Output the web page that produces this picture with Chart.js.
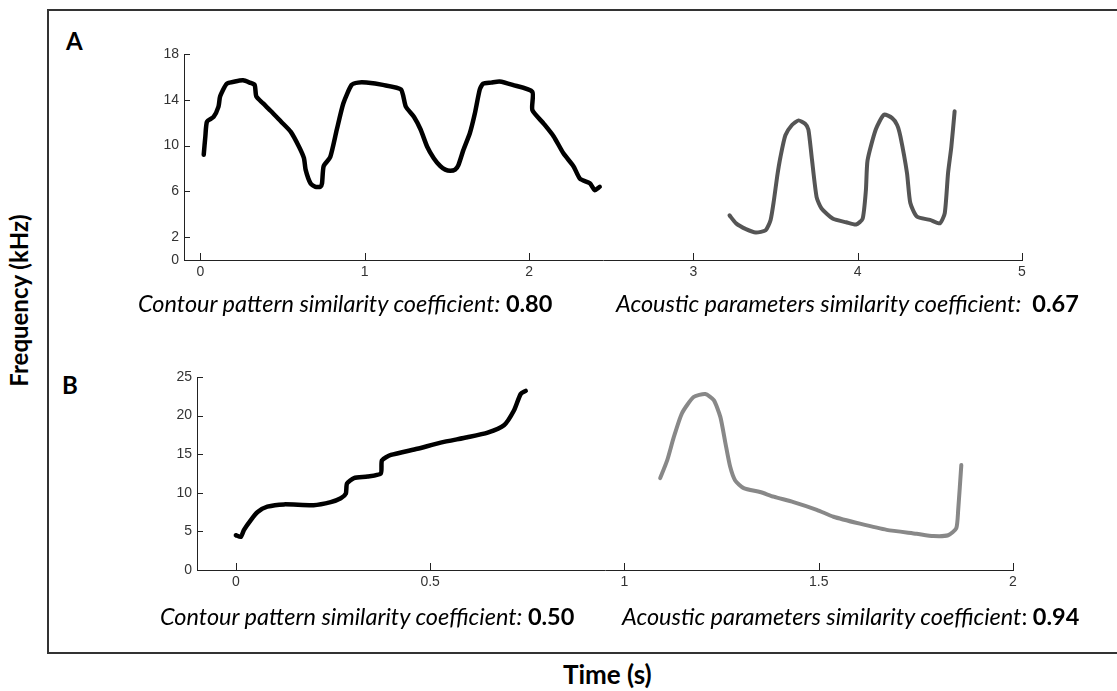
<!DOCTYPE html>
<html>
<head>
<meta charset="utf-8">
<script src="https://cdn.jsdelivr.net/npm/chart.js@4"></script>
<style>
  html,body{margin:0;padding:0;background:#fff;overflow:hidden;}
  #page{position:relative;width:1117px;height:691px;font-family:Lato,"Open Sans",sans-serif;color:#000;}
  .frame{position:absolute;left:47px;top:9px;width:1100px;height:641px;border:2px solid #333;}
  canvas{position:absolute;}
  .lbl{position:absolute;white-space:nowrap;}
  .panel{font-weight:bold;font-size:24px;}
  .coef{font-style:italic;font-size:23.5px;}
  .coef b{font-style:normal;}
  .ylab{font-weight:bold;font-size:24px;transform:rotate(-90deg);transform-origin:center;}
  .xlab{font-weight:bold;font-size:26px;}
</style>
</head>
<body>
<div id="page">
  <div class="frame"></div>
  <canvas id="chartA" width="960" height="250" style="left:100px;top:40px"></canvas>
  <canvas id="chartB" width="960" height="250" style="left:100px;top:360px"></canvas>

  <div class="lbl panel" style="left:66px;top:26px">A</div>
  <div class="lbl panel" style="left:62px;top:370px">B</div>

  <div class="lbl coef" style="left:138px;top:289px">Contour pattern similarity coefficient: <b>0.80</b></div>
  <div class="lbl coef" style="left:616px;top:289px">Acoustic parameters similarity coefficient:&nbsp; <b>0.67</b></div>
  <div class="lbl coef" style="left:160px;top:602px">Contour pattern similarity coefficient: <b>0.50</b></div>
  <div class="lbl coef" style="left:622px;top:602px">Acoustic parameters similarity coefficient<span style="font-style:normal">:</span> <b>0.94</b></div>

  <div class="lbl ylab" style="left:-68px;top:286px">Frequency (kHz)</div>
  <div class="lbl xlab" style="left:563px;top:658px">Time (s)</div>
</div>

<script>
/* ===== Data (time in s, frequency in kHz) ===== */
// Panel A, first contour (black)
const tA1 = [0.02,0.03,0.04,0.08,0.11,0.12,0.16,0.21,0.26,0.30,0.33,0.34,0.38,0.43,0.49,0.55,0.60,0.63,0.64,0.67,0.70,0.73,0.74,0.75,0.79,0.83,0.87,0.92,0.96,1.01,1.11,1.22,1.25,1.30,1.34,1.38,1.42,1.46,1.49,1.52,1.55,1.57,1.60,1.64,1.67,1.70,1.72,1.77,1.82,1.90,2.02,2.02,2.09,2.15,2.21,2.27,2.31,2.37,2.40,2.43];
const fA1 = [9.2,10.8,12.1,12.5,13.4,14.3,15.4,15.6,15.7,15.5,15.3,14.3,13.7,13.0,12.1,11.2,9.9,8.9,7.9,6.7,6.4,6.4,6.7,8.2,9.0,11.4,13.7,15.3,15.5,15.5,15.3,14.9,13.4,12.5,11.4,9.9,8.9,8.2,7.9,7.8,7.9,8.3,9.6,11.1,12.8,14.9,15.4,15.5,15.6,15.3,14.7,13.1,11.9,10.8,9.3,8.2,7.1,6.7,6.1,6.4];
// Panel A, second contour (grey)
const tA2 = [3.22,3.26,3.32,3.38,3.44,3.47,3.49,3.51,3.53,3.56,3.60,3.64,3.68,3.70,3.72,3.75,3.78,3.85,3.93,3.99,4.03,4.05,4.06,4.11,4.16,4.21,4.24,4.26,4.30,4.32,4.36,4.44,4.50,4.53,4.55,4.57,4.59];
const fA2 = [3.9,3.2,2.7,2.4,2.6,3.5,5.2,7.3,9.0,10.9,11.8,12.2,11.9,11.4,9.0,5.5,4.5,3.6,3.3,3.1,3.6,6.1,8.7,11.4,12.7,12.4,11.8,10.8,7.6,5.0,3.8,3.5,3.2,4.1,7.6,9.9,13.0];
// Panel B, first contour (black)
const tB1 = [0.0,0.013,0.021,0.039,0.056,0.081,0.124,0.20,0.244,0.27,0.283,0.286,0.304,0.339,0.373,0.376,0.399,0.467,0.527,0.596,0.648,0.69,0.716,0.733,0.746];
const fB1 = [4.5,4.3,5.2,6.5,7.5,8.2,8.5,8.4,8.8,9.3,9.9,11.2,11.9,12.1,12.5,14.2,14.9,15.7,16.5,17.2,17.8,18.75,20.7,22.8,23.2];
// Panel B, second contour (grey)
const tB2 = [1.092,1.11,1.127,1.148,1.178,1.208,1.23,1.247,1.26,1.272,1.285,1.307,1.349,1.384,1.435,1.495,1.538,1.606,1.675,1.752,1.795,1.833,1.854,1.859,1.867];
const fB2 = [11.9,14.2,17.2,20.3,22.4,22.8,22.0,19.8,16.4,13.4,11.6,10.6,10.1,9.5,8.8,7.8,6.9,6.0,5.2,4.7,4.4,4.5,5.4,7.8,13.6];

// Tick labels
const ticksAx = [0,1,2,3,4,5];
const ticksAy = [0,2,6,10,14,18];
const ticksBx = [0,0.5,1,1.5,2];
const ticksBy = [0,5,10,15,20,25];

/* ===== Helpers ===== */
const pts = (t,f)=>t.map((x,i)=>({x, y:f[i]}));

// MATLAB style tick marks pointing into the plot
const innerTicks = {
  id:'innerTicks',
  afterDraw(chart){
    const {ctx, chartArea:a, scales:{x,y}} = chart;
    ctx.save();
    ctx.strokeStyle='#222'; ctx.lineWidth=1;
    x.ticks.forEach(t=>{
      const px = Math.round(x.getPixelForValue(t.value))+.5;
      ctx.beginPath(); ctx.moveTo(px,a.bottom); ctx.lineTo(px,a.bottom-7); ctx.stroke();
    });
    y.ticks.forEach(t=>{
      const py = Math.round(y.getPixelForValue(t.value))+.5;
      ctx.beginPath(); ctx.moveTo(a.left,py); ctx.lineTo(a.left+6,py); ctx.stroke();
    });
    ctx.restore();
  }
};

function lineSet(data,color,w){
  return { data, showLine:true, borderColor:color, backgroundColor:color,
           borderWidth:w, pointRadius:0, tension:0.2, borderJoinStyle:'round', borderCapStyle:'round' };
}

function makeChart(id, sets, xr, yr, xt, yt, box){
  const tickFont = {family:'"Liberation Sans", Arial, sans-serif', size:14};
  return new Chart(document.getElementById(id), {
    type:'scatter',
    data:{ datasets:sets },
    plugins:[innerTicks],
    options:{
      responsive:false, animation:false,
      layout:{ padding:{top:box.top, right:box.right, left:0, bottom:0} },
      plugins:{ legend:{display:false}, tooltip:{enabled:false} },
      scales:{
        x:{ type:'linear', min:xr[0], max:xr[1],
            grid:{display:false, drawTicks:false},
            border:{display:true, color:'#222', width:1},
            ticks:{ color:'#333', font:tickFont, padding:4, maxRotation:0, callback:v=>String(v) },
            afterBuildTicks:s=>{ s.ticks = xt.map(v=>({value:v})); },
            afterFit:s=>{ s.height = box.xh; } },
        y:{ type:'linear', min:yr[0], max:yr[1],
            grid:{display:false, drawTicks:false},
            border:{display:true, color:'#222', width:1},
            ticks:{ color:'#333', font:tickFont, padding:5, callback:v=>String(v) },
            afterBuildTicks:s=>{ s.ticks = yt.map(v=>({value:v})); },
            afterFit:s=>{ s.width = box.yw; } }
      }
    }
  });
}

/* ===== Charts ===== */
makeChart('chartA',
  [lineSet(pts(tA1,fA1),'#000',4.5), lineSet(pts(tA2,fA2),'#555',4)],
  [-0.1,5], [0,18], ticksAx, ticksAy,
  {top:14, right:38, xh:30, yw:84});

makeChart('chartB',
  [lineSet(pts(tB1,fB1),'#000',4.5), lineSet(pts(tB2,fB2),'#888',4)],
  [-0.1,2], [0,25], ticksBx, ticksBy,
  {top:17, right:47, xh:40, yw:97});
</script>
</body>
</html>
